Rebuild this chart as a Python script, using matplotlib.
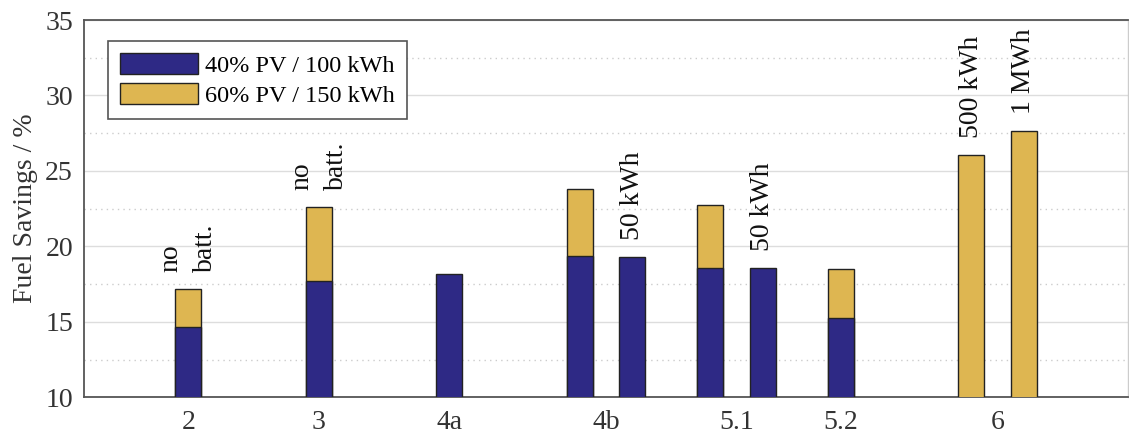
import matplotlib
matplotlib.use('Agg')
import matplotlib.pyplot as plt
import numpy as np
from matplotlib.patches import Patch
from matplotlib.ticker import MultipleLocator

plt.rcParams['font.family'] = ['Liberation Serif', 'DejaVu Serif']

# scenario groups on the x axis
groups = ['2', '3', '4a', '4b', '5.1', '5.2', '6']
group_x = [0, 5, 10, 16, 21, 25, 31]

# one entry per bar: group, slot inside the group, values and note
bar_group = ['2', '3', '4a', '4b', '4b', '5.1', '5.1', '5.2', '6', '6']
bar_slot = [0, 0, 0, -1, 1, -1, 1, 0, -1, 1]
pv40_vals = [14.66, 17.73, 18.19, 19.36, 19.32, 18.59, 18.59, 15.23, np.nan, np.nan]
pv60_vals = [17.18, 22.61, np.nan, 23.80, np.nan, 22.77, np.nan, 18.48, 26.06, 27.67]
bar_notes = ['no\nbatt.', 'no\nbatt.', '', '', '50 kWh', '', '50 kWh', '', '500 kWh', '1 MWh']

blue = '#2e2985'
gold = '#deb651'

fig = plt.figure(figsize=(11.29, 4.36), dpi=100)
ax = fig.add_axes([0.0744, 0.0888, 0.9247, 0.8653])

xs = [group_x[groups.index(g)] + s for g, s in zip(bar_group, bar_slot)]
pv40 = np.array(pv40_vals)
pv60 = np.array(pv60_vals)

# 60% bars go behind, 40% bars in front
ax.bar(xs, pv60, width=1.0, color=gold, edgecolor='#222222', linewidth=1, zorder=3)
ax.bar(xs, pv40, width=1.0, color=blue, edgecolor='#222222', linewidth=1, zorder=4)

for x, a, b, note in zip(xs, pv40, pv60, bar_notes):
    if not note:
        continue
    top = np.nanmax([a, b])
    ax.annotate(note, (x, top), xytext=(0, 12), textcoords='offset points',
                rotation=90, ha='center', va='bottom', multialignment='left',
                fontsize=20, linespacing=1.5, color='#111111')

ax.set_xlim(-4, 36)
ax.set_ylim(10, 35)
ax.set_xticks(group_x)
ax.set_xticklabels(groups)
ax.yaxis.set_major_locator(MultipleLocator(5))
ax.yaxis.set_minor_locator(MultipleLocator(2.5))
ax.tick_params(axis='both', which='both', length=0, labelsize=20, colors='#333333')
ax.tick_params(axis='x', pad=9)
ax.tick_params(axis='y', pad=8)
ax.set_ylabel('Fuel Savings / %', fontsize=20, color='#333333', labelpad=5)

ax.grid(axis='y', which='major', color='#dddddd', linewidth=1, zorder=0)
ax.grid(axis='y', which='minor', color='#cccccc', linewidth=1,
        linestyle=(0, (1, 3)), zorder=0)
ax.set_axisbelow(True)

for side in ['left', 'bottom', 'top']:
    ax.spines[side].set_color('#555555')
    ax.spines[side].set_linewidth(1.3)
ax.spines['right'].set_color('#cccccc')
ax.spines['right'].set_linewidth(1)

handles = [Patch(facecolor=blue, edgecolor='#222222', label='40% PV / 100 kWh'),
           Patch(facecolor=gold, edgecolor='#222222', label='60% PV / 150 kWh')]
leg = ax.legend(handles=handles, loc='upper left', bbox_to_anchor=(0.023, 0.944),
                fontsize=17.5, handlelength=3.2, handleheight=0.95, handletextpad=0.3,
                labelspacing=0.25, borderpad=0.5, borderaxespad=0, fancybox=False,
                framealpha=1, edgecolor='#555555')
leg.get_frame().set_linewidth(1.2)

fig.savefig('out.png', dpi=100)
